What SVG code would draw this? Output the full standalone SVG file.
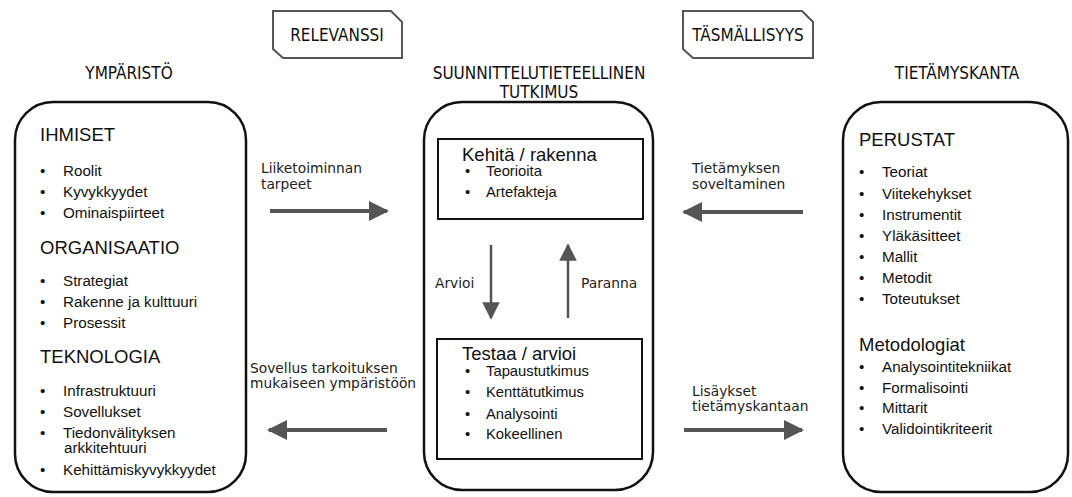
<svg xmlns="http://www.w3.org/2000/svg" width="1072" height="497" viewBox="0 0 1072 497">
  <style>
    .frame { fill: #fff; stroke: #111; stroke-width: 2.5; }
    .inner { fill: #fff; stroke: #111; stroke-width: 2; }
    .tab { fill: #fff; stroke: #555; stroke-width: 2; }
    .head { font-family: "DejaVu Sans", sans-serif; font-stretch: condensed; font-size: 17px; fill: #111; }
    .title { font-family: "Liberation Sans", Arial, sans-serif; font-size: 18.5px; fill: #111; }
    .item { font-family: "Liberation Sans", Arial, sans-serif; font-size: 15.2px; fill: #111; }
    .citem { font-family: "Liberation Sans", Arial, sans-serif; font-size: 14.8px; fill: #111; }
    .lbl { font-family: "DejaVu Sans", sans-serif; font-size: 13.8px; fill: #222; }
    .conn { stroke: #555; fill: none; }
  </style>
  <defs>
    <marker id="ah" viewBox="0 0 10 10" refX="9" refY="5" markerWidth="6" markerHeight="5" markerUnits="strokeWidth" orient="auto">
      <path d="M0,0 L10,5 L0,10 Z" fill="#555"/>
    </marker>
    <marker id="ahv" viewBox="0 0 10 10" refX="9" refY="5" markerWidth="7.5" markerHeight="7" markerUnits="strokeWidth" orient="auto">
      <path d="M0,0 L10,5 L0,10 Z" fill="#555"/>
    </marker>
  </defs>

  <rect width="1072" height="497" fill="#fff"/>

  <!-- tab labels -->
  <g id="relevanssi">
    <path class="tab" d="M273,11 H391 L402,22 V58 H283 L273,49 Z"/>
    <text class="head" x="337" y="41" text-anchor="middle">RELEVANSSI</text>
  </g>
  <g id="tasmallisyys">
    <path class="tab" d="M683,11 H802 L813,22 V58 H693 L683,49 Z"/>
    <text class="head" x="748" y="41" text-anchor="middle">TÄSMÄLLISYYS</text>
  </g>

  <!-- column headings -->
  <text class="head" x="129" y="79" text-anchor="middle">YMPÄRISTÖ</text>
  <text class="head" x="539" y="79" text-anchor="middle">SUUNNITTELUTIETEELLINEN</text>
  <text class="head" x="539" y="98" text-anchor="middle">TUTKIMUS</text>
  <text class="head" x="957" y="79" text-anchor="middle">TIETÄMYSKANTA</text>

  <!-- environment -->
  <g id="ymparisto">
    <rect class="frame" x="15" y="102" width="231" height="390" rx="38" ry="38"/>
    <text class="title" x="40" y="141">IHMISET</text>
    <g class="item">
      <text x="40" y="176">•</text><text x="63" y="176">Roolit</text>
      <text x="40" y="197">•</text><text x="63" y="197">Kyvykkyydet</text>
      <text x="40" y="218">•</text><text x="63" y="218">Ominaispiirteet</text>
    </g>
    <text class="title" x="40" y="254">ORGANISAATIO</text>
    <g class="item">
      <text x="40" y="286">•</text><text x="63" y="286">Strategiat</text>
      <text x="40" y="307">•</text><text x="63" y="307">Rakenne ja kulttuuri</text>
      <text x="40" y="328">•</text><text x="63" y="328">Prosessit</text>
    </g>
    <text class="title" x="40" y="363">TEKNOLOGIA</text>
    <g class="item">
      <text x="40" y="396">•</text><text x="63" y="396">Infrastruktuuri</text>
      <text x="40" y="417">•</text><text x="63" y="417">Sovellukset</text>
      <text x="40" y="438">•</text><text x="63" y="438">Tiedonvälityksen</text>
      <text x="64" y="453">arkkitehtuuri</text>
      <text x="40" y="475">•</text><text x="63" y="475">Kehittämiskyvykkyydet</text>
    </g>
  </g>

  <!-- design science research -->
  <g id="tutkimus">
    <rect class="frame" x="424" y="102" width="229" height="388" rx="38" ry="38"/>
  </g>
  <g id="kehita">
    <rect class="inner" x="438" y="139" width="205" height="80"/>
    <text class="title" x="462" y="161">Kehitä / rakenna</text>
    <g class="citem">
      <text x="465" y="176">•</text><text x="486" y="176">Teorioita</text>
      <text x="465" y="197">•</text><text x="486" y="197">Artefakteja</text>
    </g>
  </g>
  <g id="testaa">
    <rect class="inner" x="437" y="339" width="205" height="120"/>
    <text class="title" x="462" y="360">Testaa / arvioi</text>
    <g class="citem">
      <text x="465" y="376">•</text><text x="486" y="376">Tapaustutkimus</text>
      <text x="465" y="397">•</text><text x="486" y="397">Kenttätutkimus</text>
      <text x="465" y="419">•</text><text x="486" y="419">Analysointi</text>
      <text x="465" y="439">•</text><text x="486" y="439">Kokeellinen</text>
    </g>
  </g>

  <!-- knowledge base -->
  <g id="tietamyskanta">
    <rect class="frame" x="843" y="102" width="225" height="390" rx="38" ry="38"/>
    <text class="title" x="859" y="146">PERUSTAT</text>
    <g class="item">
      <text x="859" y="177">•</text><text x="882" y="177">Teoriat</text>
      <text x="859" y="199">•</text><text x="882" y="199">Viitekehykset</text>
      <text x="859" y="220">•</text><text x="882" y="220">Instrumentit</text>
      <text x="859" y="241">•</text><text x="882" y="241">Yläkäsitteet</text>
      <text x="859" y="262">•</text><text x="882" y="262">Mallit</text>
      <text x="859" y="283">•</text><text x="882" y="283">Metodit</text>
      <text x="859" y="304">•</text><text x="882" y="304">Toteutukset</text>
    </g>
    <text class="title" x="859" y="351">Metodologiat</text>
    <g class="item">
      <text x="859" y="372">•</text><text x="882" y="372">Analysointitekniikat</text>
      <text x="859" y="393">•</text><text x="882" y="393">Formalisointi</text>
      <text x="859" y="413">•</text><text x="882" y="413">Mittarit</text>
      <text x="859" y="434">•</text><text x="882" y="434">Validointikriteerit</text>
    </g>
  </g>

  <!-- connectors -->
  <g id="connectors">
    <line class="conn" x1="270" y1="211" x2="387" y2="211" stroke-width="4" marker-end="url(#ah)"/>
    <line class="conn" x1="387" y1="430" x2="269" y2="430" stroke-width="4" marker-end="url(#ah)"/>
    <line class="conn" x1="803" y1="212" x2="684" y2="212" stroke-width="4" marker-end="url(#ah)"/>
    <line class="conn" x1="684" y1="430" x2="802" y2="430" stroke-width="4" marker-end="url(#ah)"/>
    <line class="conn" x1="491" y1="245" x2="491" y2="318" stroke-width="2.5" marker-end="url(#ahv)"/>
    <line class="conn" x1="568" y1="318" x2="568" y2="245" stroke-width="2.5" marker-end="url(#ahv)"/>

    <text class="lbl" x="261" y="173">Liiketoiminnan</text>
    <text class="lbl" x="261" y="189">tarpeet</text>
    <text class="lbl" x="250" y="373">Sovellus tarkoituksen</text>
    <text class="lbl" x="250" y="388">mukaiseen ympäristöön</text>
    <text class="lbl" x="692" y="173">Tietämyksen</text>
    <text class="lbl" x="692" y="189">soveltaminen</text>
    <text class="lbl" x="692" y="396">Lisäykset</text>
    <text class="lbl" x="692" y="411">tietämyskantaan</text>
    <text class="lbl" x="435" y="288">Arvioi</text>
    <text class="lbl" x="581" y="288">Paranna</text>
  </g>
</svg>
